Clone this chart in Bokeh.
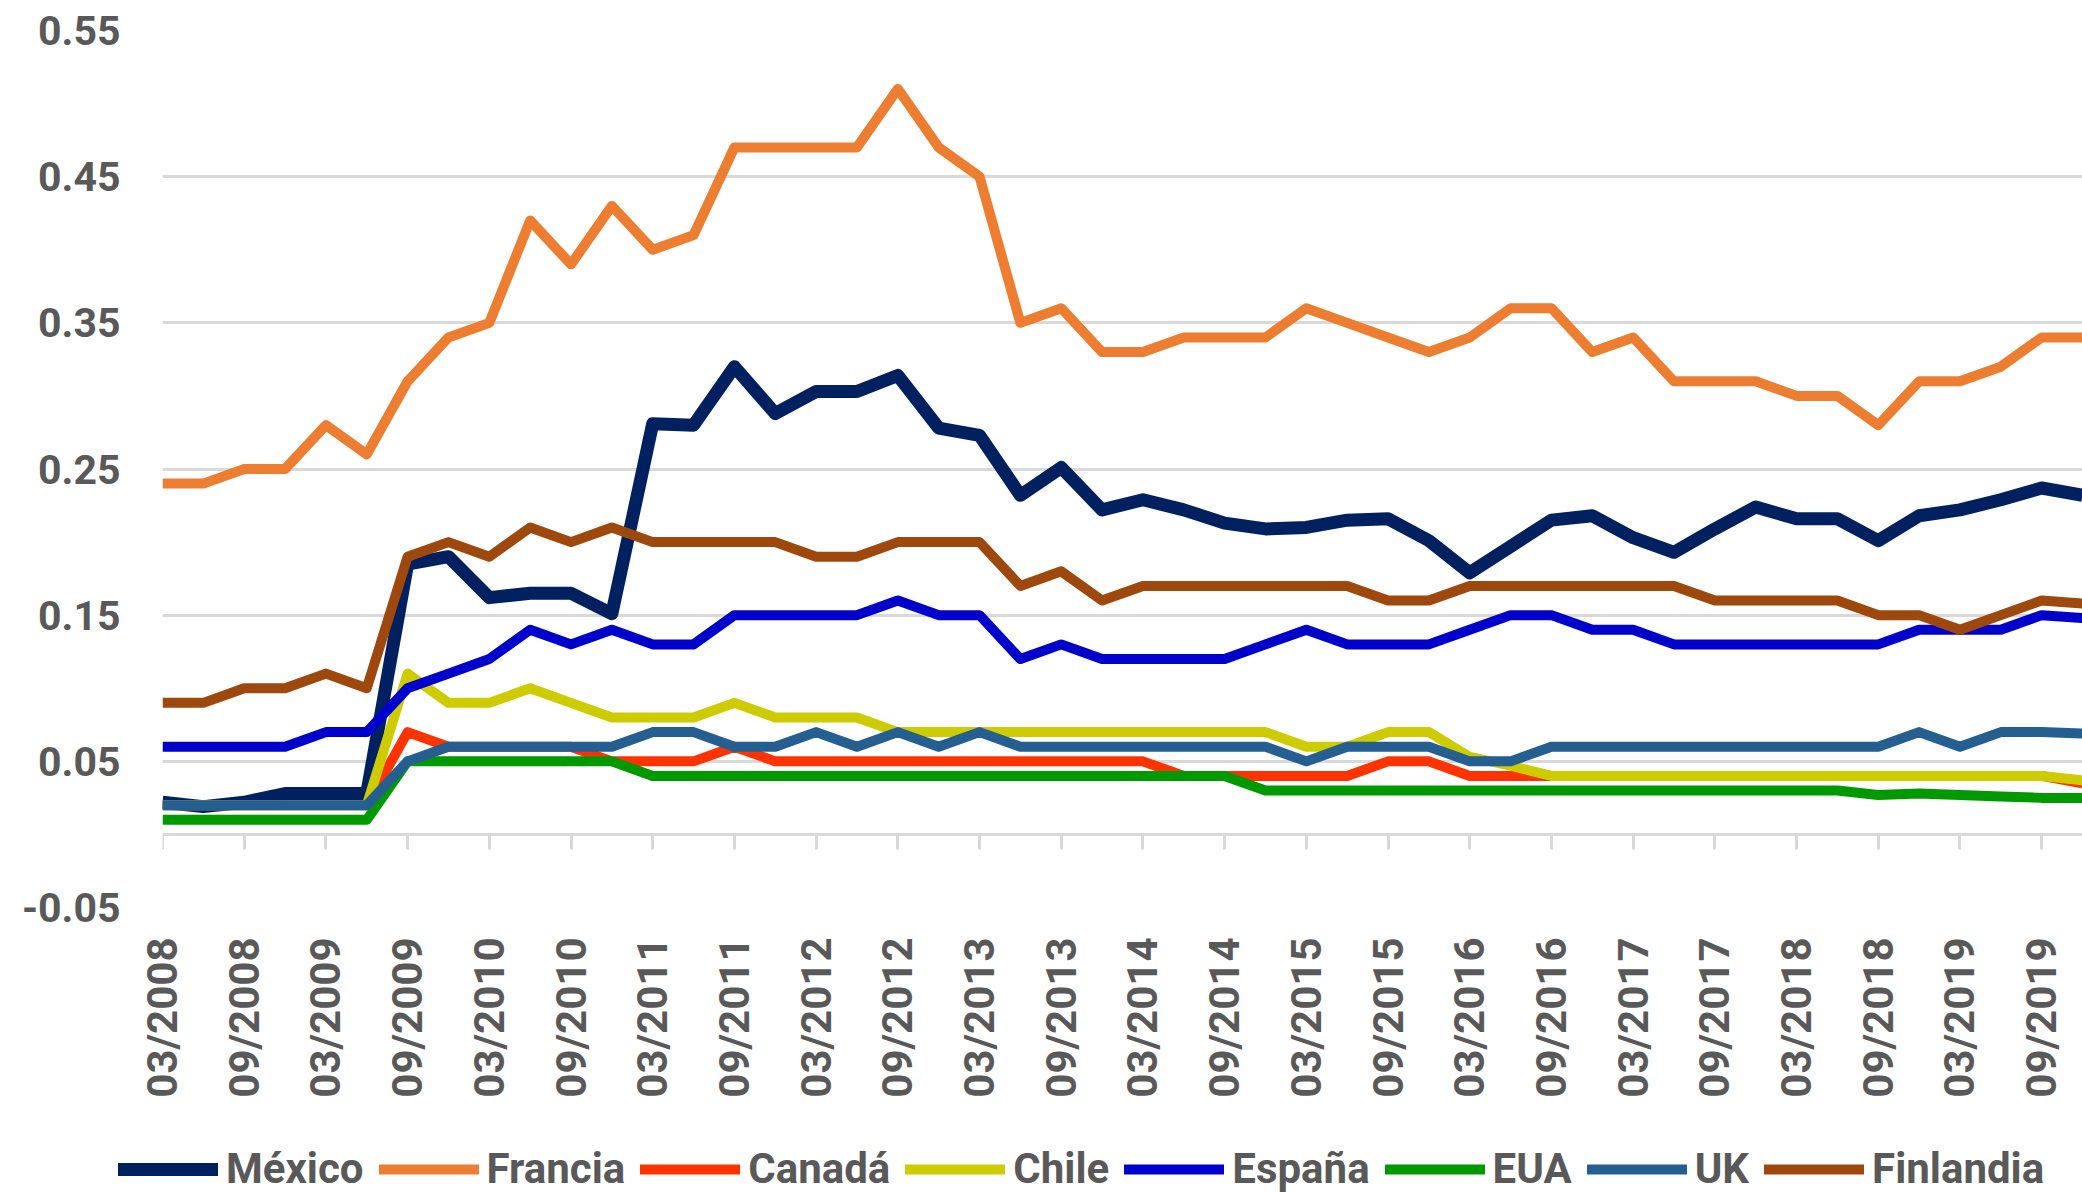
from math import pi
from bokeh.plotting import figure
from bokeh.layouts import column
from bokeh.models import (ColumnDataSource, Range1d, LinearAxis, FixedTicker,
                          Legend, LegendItem, NumeralTickFormatter)
from bokeh.embed import file_html
from bokeh.resources import INLINE

quarters = ["03/2008", "06/2008", "09/2008", "12/2008",
            "03/2009", "06/2009", "09/2009", "12/2009",
            "03/2010", "06/2010", "09/2010", "12/2010",
            "03/2011", "06/2011", "09/2011", "12/2011",
            "03/2012", "06/2012", "09/2012", "12/2012",
            "03/2013", "06/2013", "09/2013", "12/2013",
            "03/2014", "06/2014", "09/2014", "12/2014",
            "03/2015", "06/2015", "09/2015", "12/2015",
            "03/2016", "06/2016", "09/2016", "12/2016",
            "03/2017", "06/2017", "09/2017", "12/2017",
            "03/2018", "06/2018", "09/2018", "12/2018",
            "03/2019", "06/2019", "09/2019", "12/2019"]

mexico = [0.022, 0.019, 0.022, 0.028, 0.028, 0.028, 0.185, 0.190, 0.162, 0.165,
          0.165, 0.151, 0.281, 0.280, 0.320, 0.288, 0.303, 0.303, 0.314, 0.278,
          0.273, 0.232, 0.251, 0.222, 0.229, 0.222, 0.213, 0.209, 0.210, 0.215,
          0.216, 0.201, 0.179, 0.197, 0.215, 0.218, 0.203, 0.193, 0.209, 0.224,
          0.216, 0.216, 0.201, 0.218, 0.222, 0.229, 0.237, 0.232]
francia = [0.24, 0.24, 0.25, 0.25, 0.28, 0.26, 0.31, 0.34, 0.35, 0.42,
           0.39, 0.43, 0.40, 0.41, 0.47, 0.47, 0.47, 0.47, 0.51, 0.47,
           0.45, 0.35, 0.36, 0.33, 0.33, 0.34, 0.34, 0.34, 0.36, 0.35,
           0.34, 0.33, 0.34, 0.36, 0.36, 0.33, 0.34, 0.31, 0.31, 0.31,
           0.30, 0.30, 0.28, 0.31, 0.31, 0.32, 0.34, 0.34]
canada = [0.02, 0.02, 0.02, 0.02, 0.02, 0.02, 0.07, 0.06, 0.06, 0.06,
          0.06, 0.05, 0.05, 0.05, 0.06, 0.05, 0.05, 0.05, 0.05, 0.05,
          0.05, 0.05, 0.05, 0.05, 0.05, 0.04, 0.04, 0.04, 0.04, 0.04,
          0.05, 0.05, 0.04, 0.04, 0.04, 0.04, 0.04, 0.04, 0.04, 0.04,
          0.04, 0.04, 0.04, 0.04, 0.04, 0.04, 0.04, 0.035]
chile = [0.02, 0.02, 0.02, 0.02, 0.02, 0.02, 0.11, 0.09, 0.09, 0.10,
         0.09, 0.08, 0.08, 0.08, 0.09, 0.08, 0.08, 0.08, 0.07, 0.07,
         0.07, 0.07, 0.07, 0.07, 0.07, 0.07, 0.07, 0.07, 0.06, 0.06,
         0.07, 0.07, 0.053, 0.047, 0.04, 0.04, 0.04, 0.04, 0.04, 0.04,
         0.04, 0.04, 0.04, 0.04, 0.04, 0.04, 0.04, 0.037]
espana = [0.06, 0.06, 0.06, 0.06, 0.07, 0.07, 0.10, 0.11, 0.12, 0.14,
          0.13, 0.14, 0.13, 0.13, 0.15, 0.15, 0.15, 0.15, 0.16, 0.15,
          0.15, 0.12, 0.13, 0.12, 0.12, 0.12, 0.12, 0.13, 0.14, 0.13,
          0.13, 0.13, 0.14, 0.15, 0.15, 0.14, 0.14, 0.13, 0.13, 0.13,
          0.13, 0.13, 0.13, 0.14, 0.14, 0.14, 0.15, 0.148]
eua = [0.01, 0.01, 0.01, 0.01, 0.01, 0.01, 0.05, 0.05, 0.05, 0.05,
       0.05, 0.05, 0.04, 0.04, 0.04, 0.04, 0.04, 0.04, 0.04, 0.04,
       0.04, 0.04, 0.04, 0.04, 0.04, 0.04, 0.04, 0.03, 0.03, 0.03,
       0.03, 0.03, 0.03, 0.03, 0.03, 0.03, 0.03, 0.03, 0.03, 0.03,
       0.03, 0.03, 0.027, 0.028, 0.027, 0.026, 0.025, 0.025]
uk = [0.02, 0.02, 0.02, 0.02, 0.02, 0.02, 0.05, 0.06, 0.06, 0.06,
      0.06, 0.06, 0.07, 0.07, 0.06, 0.06, 0.07, 0.06, 0.07, 0.06,
      0.07, 0.06, 0.06, 0.06, 0.06, 0.06, 0.06, 0.06, 0.05, 0.06,
      0.06, 0.06, 0.05, 0.05, 0.06, 0.06, 0.06, 0.06, 0.06, 0.06,
      0.06, 0.06, 0.06, 0.07, 0.06, 0.07, 0.07, 0.069]
finlandia = [0.09, 0.09, 0.10, 0.10, 0.11, 0.10, 0.19, 0.20, 0.19, 0.21,
             0.20, 0.21, 0.20, 0.20, 0.20, 0.20, 0.19, 0.19, 0.20, 0.20,
             0.20, 0.17, 0.18, 0.16, 0.17, 0.17, 0.17, 0.17, 0.17, 0.17,
             0.16, 0.16, 0.17, 0.17, 0.17, 0.17, 0.17, 0.17, 0.16, 0.16,
             0.16, 0.16, 0.15, 0.15, 0.14, 0.15, 0.16, 0.158]

series_names = ["México", "Francia", "Canadá", "Chile", "España", "EUA", "UK", "Finlandia"]
series_values = [mexico, francia, canada, chile, espana, eua, uk, finlandia]
series_colors = ["#002060", "#ED7D31", "#FF3300", "#CCCC00", "#0000CC", "#009900", "#255E91", "#9E480E"]
series_widths = [13, 10, 10, 10, 10, 10, 10, 10]

y_ticks = [-0.05, 0.05, 0.15, 0.25, 0.35, 0.45, 0.55]

FONT = "Roboto"
TXT = "#595959"
GRID = "#d9d9d9"

x_idx = list(range(len(quarters)))
label_pos = x_idx[::2]

# ---------------- main chart ----------------
p = figure(width=2082, height=1100, output_backend="svg", toolbar_location=None,
           x_range=Range1d(0, len(quarters) - 1), y_range=Range1d(-0.05, 0.55),
           x_axis_type=None, min_border_left=162, min_border_right=0,
           min_border_top=30, min_border_bottom=193)
p.frame_align = False
p.outline_line_color = None
p.background_fill_color = "white"
p.border_fill_color = "white"

p.yaxis.ticker = FixedTicker(ticks=y_ticks)
p.yaxis.formatter = NumeralTickFormatter(format="0.00")
p.yaxis.axis_line_color = None
p.yaxis.major_tick_line_color = None
p.yaxis.minor_tick_line_color = None
p.yaxis.major_tick_out = 0
p.yaxis.major_tick_in = 0
p.yaxis.major_label_standoff = 42
p.yaxis.major_label_text_font = FONT
p.yaxis.major_label_text_font_size = "41px"
p.yaxis.major_label_text_font_style = "bold"
p.yaxis.major_label_text_color = TXT
p.ygrid.grid_line_color = GRID
p.ygrid.grid_line_width = 3

zero_axis = LinearAxis(fixed_location=0, ticker=FixedTicker(ticks=label_pos),
                       axis_line_color=GRID, axis_line_width=3,
                       major_tick_line_color=GRID, major_tick_line_width=3,
                       major_tick_in=0, major_tick_out=15,
                       minor_tick_line_color=None,
                       major_label_overrides={i: "" for i in label_pos},
                       major_label_text_font_size="1px")
p.add_layout(zero_axis, "below")

label_axis = LinearAxis(ticker=FixedTicker(ticks=label_pos),
                        major_label_overrides={i: quarters[i] for i in label_pos},
                        major_label_orientation=pi / 2,
                        axis_line_color=None, major_tick_line_color=None,
                        minor_tick_line_color=None, major_tick_in=0, major_tick_out=0,
                        major_label_standoff=30,
                        major_label_text_font=FONT, major_label_text_font_size="42px",
                        major_label_text_font_style="bold", major_label_text_color=TXT)
p.add_layout(label_axis, "below")

for vals, col, w in zip(series_values, series_colors, series_widths):
    src = ColumnDataSource(data=dict(x=x_idx, y=vals))
    p.line("x", "y", source=src, line_color=col, line_width=w, line_join="round")

# ---------------- legend strip ----------------
# same series drawn on a strip whose y range is far away, so only the legend shows
lg = figure(width=2082, height=93, output_backend="svg", toolbar_location=None,
            x_axis_type=None, y_axis_type=None, min_border=0,
            x_range=Range1d(0, len(quarters) - 1), y_range=Range1d(10, 11))
lg.frame_align = False
lg.outline_line_color = None
lg.background_fill_color = "white"
lg.border_fill_color = "white"

items = []
for name, vals, col, w in zip(series_names, series_values, series_colors, series_widths):
    src = ColumnDataSource(data=dict(x=x_idx, y=vals))
    r = lg.line("x", "y", source=src, line_color=col, line_width=w, line_cap="round")
    items.append(LegendItem(label=name, renderers=[r]))

legend = Legend(items=items, orientation="horizontal", location=(118, 0),
                label_text_font=FONT, label_text_font_size="42px",
                label_text_font_style="bold", label_text_color=TXT,
                glyph_width=100, glyph_height=20, label_height=20,
                label_standoff=8, spacing=15,
                padding=0, margin=0, border_line_color=None,
                background_fill_alpha=0)
lg.add_layout(legend, "center")

layout = column(p, lg, spacing=0)
open("out.html", "w").write(file_html(layout, INLINE))
